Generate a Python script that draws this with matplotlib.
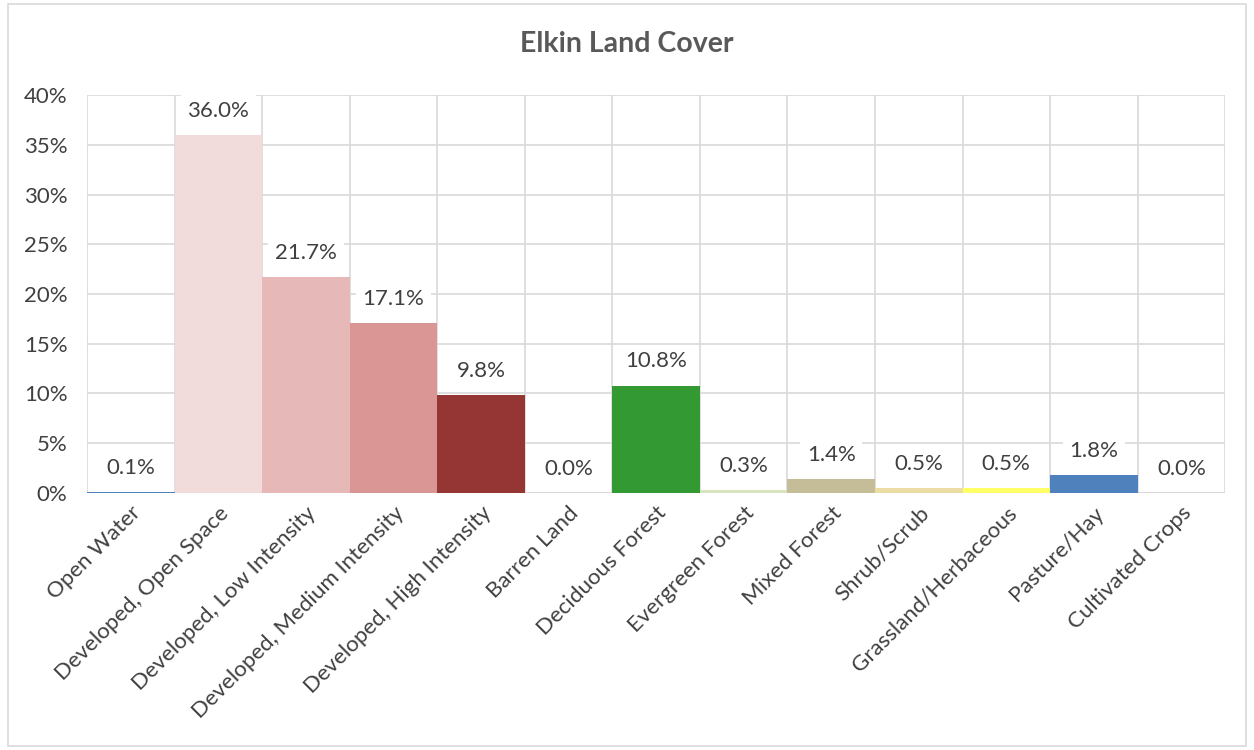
import matplotlib.pyplot as plt
from matplotlib.patches import Rectangle
from matplotlib.ticker import FuncFormatter

plt.rcParams['font.family'] = ['Lato', 'DejaVu Sans']

categories = ['Open Water', 'Developed, Open Space', 'Developed, Low Intensity',
              'Developed, Medium Intensity', 'Developed, High Intensity', 'Barren Land',
              'Deciduous Forest', 'Evergreen Forest', 'Mixed Forest', 'Shrub/Scrub',
              'Grassland/Herbaceous', 'Pasture/Hay', 'Cultivated Crops']
values = [0.1, 36.0, 21.7, 17.1, 9.8, 0.0, 10.8, 0.3, 1.4, 0.5, 0.5, 1.8, 0.0]
colors = ['#4F81BD', '#F2DCDB', '#E6B8B7', '#DA9694', '#963634', '#B7B7B7',
          '#339933', '#D7E4BD', '#C4BD97', '#EBDDA4', '#FFFF66', '#4F81BD', '#F2C9A0']

fig = plt.figure(figsize=(12.54, 7.5), dpi=100)
ax = fig.add_axes([0.0694, 0.3427, 0.9076, 0.5306])

x = list(range(len(categories)))
ax.bar(x, values, width=1.0, color=colors, zorder=2)

ax.set_xlim(-0.5, len(categories) - 0.5)
ax.set_ylim(0, 40)
ax.set_yticks(range(0, 41, 5))
ax.yaxis.set_major_formatter(FuncFormatter(lambda v, p: '%d%%' % v))

# grid: horizontal at ticks, vertical at category boundaries
for y in range(5, 41, 5):
    ax.axhline(y, color='#D9D9D9', lw=1.2, zorder=0)
for b in range(len(categories) + 1):
    ax.axvline(b - 0.5, color='#D9D9D9', lw=1.2, zorder=0)
ax.axhline(0, color='#D9D9D9', lw=1.5, zorder=1)

for s in ax.spines.values():
    s.set_visible(False)

ax.set_xticks(x)
ax.set_xticklabels(categories, rotation=45, ha='right', rotation_mode='anchor',
                   fontsize=16, color='#404040')
ax.tick_params(axis='x', length=0, pad=7)
ax.tick_params(axis='y', length=0, pad=14, labelsize=16, labelcolor='#404040')

for xi, v in zip(x, values):
    ax.annotate('%.1f%%' % v, (xi, v), xytext=(0, 17.5), textcoords='offset points',
                ha='center', va='center', fontsize=16, color='#404040', zorder=3,
                bbox=dict(boxstyle='square,pad=0.3', fc='white', ec='none'))

fig.text(0.5, 0.942, 'Elkin Land Cover', ha='center', va='center',
         fontsize=20.5, fontweight='bold', color='#595959')

fig.patches.append(Rectangle((0.006, 0.005), 0.988, 0.99, transform=fig.transFigure,
                             fill=False, ec='#D9D9D9', lw=1.2))

fig.savefig('out.png', dpi=100, facecolor='white')
